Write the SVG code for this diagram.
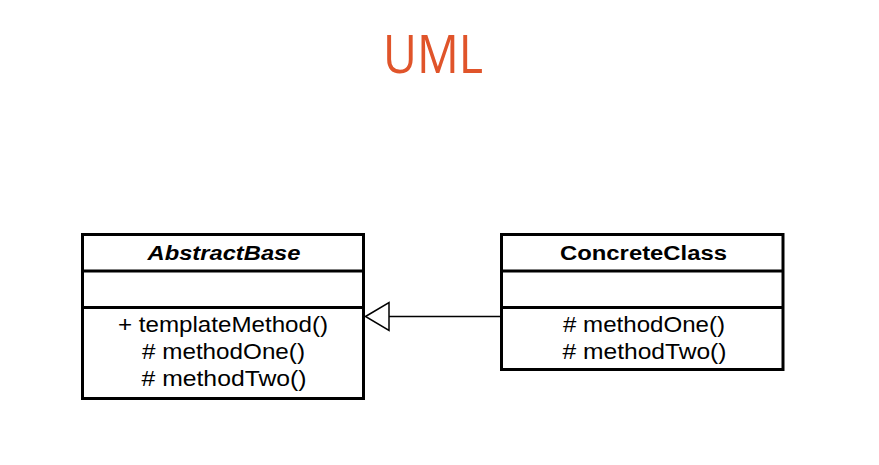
<svg xmlns="http://www.w3.org/2000/svg" width="879" height="465" viewBox="0 0 879 465">
  <style>
    .box { fill: #ffffff; stroke: #000000; stroke-width: 3; }
    .div { stroke: #000000; stroke-width: 3; }
    .name { font-family: "Liberation Sans", Arial, sans-serif; font-size: 19.5px; font-weight: bold; fill: #000; text-anchor: middle; }
    .meth { font-family: "Liberation Sans", Arial, sans-serif; font-size: 21.5px; fill: #000; text-anchor: middle; }
    .title { font-family: "Open Sans", "Liberation Sans", sans-serif; font-size: 53px; fill: #E0542A; text-anchor: middle; }
    .edge { stroke: #000000; stroke-width: 1.5; fill: none; }
  </style>
  <rect width="879" height="465" fill="#ffffff"/>
  <text class="title" x="433" y="73" textLength="100" lengthAdjust="spacingAndGlyphs">UML</text>

  <g id="AbstractBase">
    <rect class="box" x="82.5" y="234.5" width="281" height="164"/>
    <line class="div" x1="82.5" y1="271" x2="363.5" y2="271"/>
    <line class="div" x1="82.5" y1="307.5" x2="363.5" y2="307.5"/>
    <text class="name" x="224" y="260" font-style="italic" textLength="153" lengthAdjust="spacingAndGlyphs">AbstractBase</text>
    <text class="meth" x="223" y="332" textLength="210" lengthAdjust="spacingAndGlyphs">+ templateMethod()</text>
    <text class="meth" x="223.5" y="359" textLength="163" lengthAdjust="spacingAndGlyphs"># methodOne()</text>
    <text class="meth" x="224" y="386" textLength="165" lengthAdjust="spacingAndGlyphs"># methodTwo()</text>
  </g>

  <g id="ConcreteClass">
    <rect class="box" x="501.5" y="234.5" width="281.5" height="135"/>
    <line class="div" x1="501.5" y1="271" x2="783" y2="271"/>
    <line class="div" x1="501.5" y1="307.5" x2="783" y2="307.5"/>
    <text class="name" x="643.5" y="260" textLength="167" lengthAdjust="spacingAndGlyphs">ConcreteClass</text>
    <text class="meth" x="644" y="332" textLength="162" lengthAdjust="spacingAndGlyphs"># methodOne()</text>
    <text class="meth" x="644.5" y="359" textLength="164" lengthAdjust="spacingAndGlyphs"># methodTwo()</text>
  </g>

  <g id="connectors">
    <line class="edge" x1="501" y1="316.5" x2="389" y2="316.5"/>
    <polygon class="edge" points="365.5,316.5 389,302.5 389,330.5" fill="#ffffff"/>
  </g>
</svg>
